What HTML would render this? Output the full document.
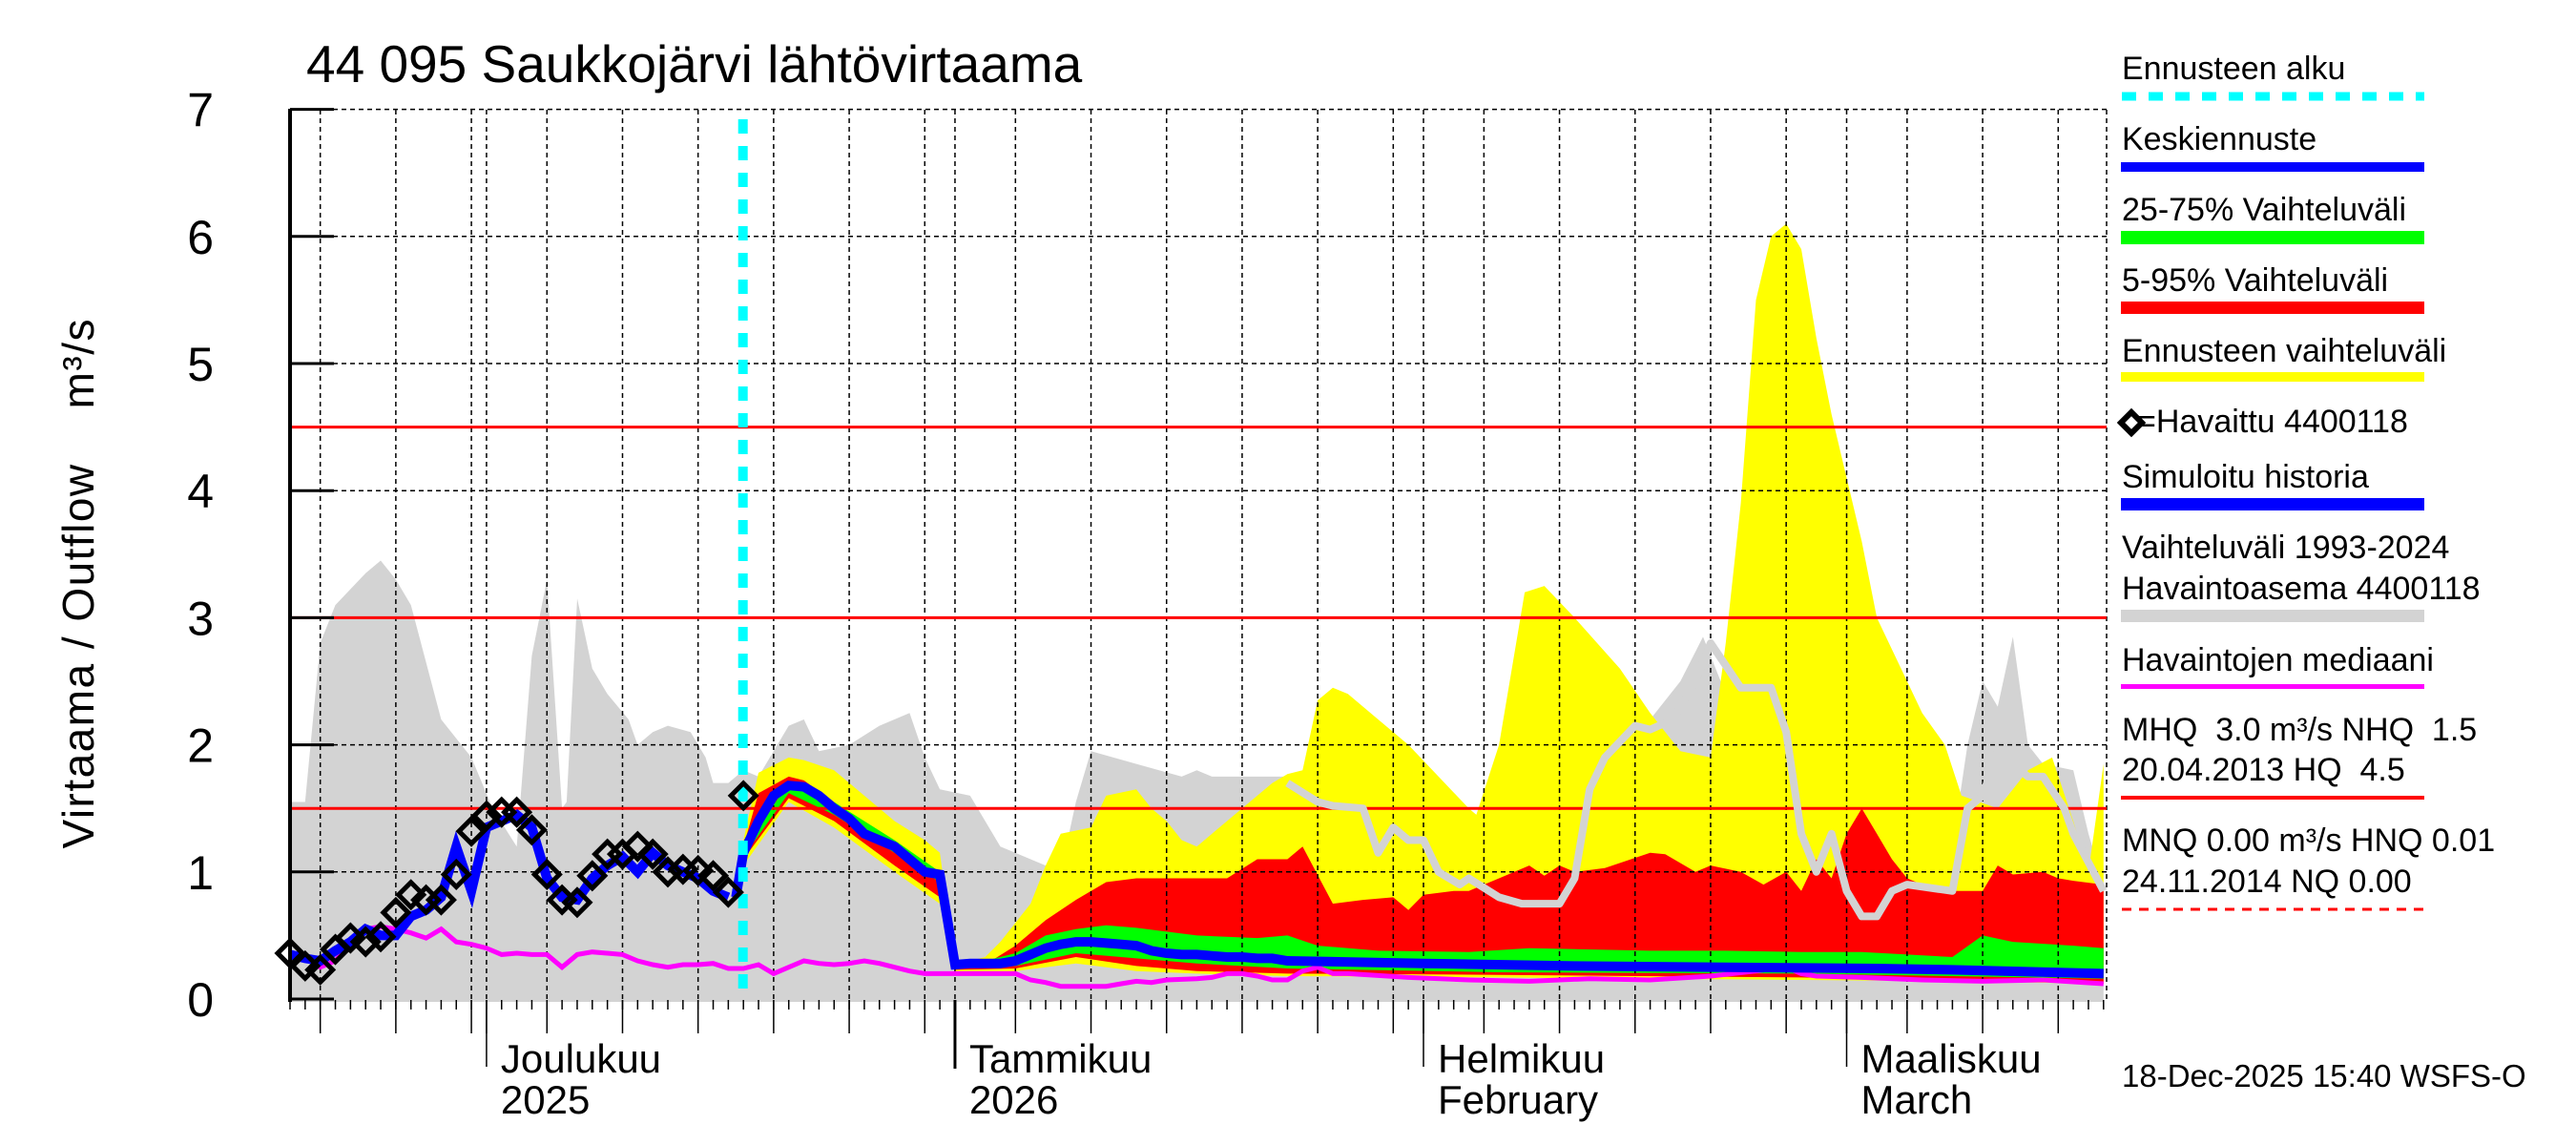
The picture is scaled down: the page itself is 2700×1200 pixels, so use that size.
<!DOCTYPE html>
<html><head><meta charset="utf-8"><style>
html,body{margin:0;padding:0;background:#fff;}
svg{display:block;font-family:"Liberation Sans",sans-serif;}
</style></head><body>
<svg id="chart" width="2700" height="1200" viewBox="0 0 2700 1200" xmlns="http://www.w3.org/2000/svg">
<text x="321" y="86" font-size="55">44 095 Saukkojärvi lähtövirtaama</text>
<text transform="translate(98,612) rotate(-90)" text-anchor="middle" font-size="46" textLength="555" style="white-space:pre" xml:space="preserve">Virtaama / Outflow    m³/s</text>
<g id="plot"></g>
<g id="axes"></g>
<g font-size="34">
 <text x="2224" y="83">Ennusteen alku</text>
 <line x1="2224" y1="101" x2="2541" y2="101" stroke="#00ffff" stroke-width="9" stroke-dasharray="15 13"/>
 <text x="2224" y="157">Keskiennuste</text>
 <rect x="2223" y="170" width="318" height="10" fill="#0000ff"/>
 <text x="2224" y="231">25-75% Vaihteluväli</text>
 <rect x="2223" y="242" width="318" height="14" fill="#00ff00"/>
 <text x="2224" y="305">5-95% Vaihteluväli</text>
 <rect x="2223" y="316" width="318" height="13" fill="#ff0000"/>
 <text x="2224" y="379">Ennusteen vaihteluväli</text>
 <rect x="2223" y="390" width="318" height="10" fill="#ffff00"/>
 <path d="M2223,443 l11,-11 l11,11 l-11,11 z" fill="none" stroke="#000" stroke-width="6"/>
 <text x="2240" y="453">=Havaittu 4400118</text>
 <text x="2224" y="511">Simuloitu historia</text>
 <rect x="2223" y="522" width="318" height="13" fill="#0000ff"/>
 <text x="2224" y="585">Vaihteluväli 1993-2024</text>
 <text x="2224" y="628">Havaintoasema 4400118</text>
 <rect x="2223" y="639" width="318" height="13" fill="#d3d3d3"/>
 <text x="2224" y="703">Havaintojen mediaani</text>
 <rect x="2223" y="717" width="318" height="5" fill="#ff00ff"/>
 <text x="2224" y="776" style="white-space:pre" xml:space="preserve">MHQ  3.0 m³/s NHQ  1.5</text>
 <text x="2224" y="818" style="white-space:pre" xml:space="preserve">20.04.2013 HQ  4.5</text>
 <rect x="2223" y="834" width="318" height="4" fill="#ff0000"/>
 <text x="2224" y="892">MNQ 0.00 m³/s HNQ 0.01</text>
 <text x="2224" y="935">24.11.2014 NQ 0.00</text>
 <line x1="2224" y1="953" x2="2541" y2="953" stroke="#ff0000" stroke-width="3" stroke-dasharray="10 8"/>
</g>
<text x="2224" y="1139" font-size="33">18-Dec-2025 15:40 WSFS-O</text>
</svg>
<script>
// day 0 = 18 Nov 2025
const histDays = [0,1,2,3,5,6,7,8,10,12,13.4,15,16,17,18,18.3,19,20,21,22.4,23,24,25,26.5,27.5,28,29,30,31,33,34,35,37,39,41,42,43,45,47,49,51,52,53,56,57.5,59,60,61,66,70,76,80,85,88,90,92,93.5,95,98,100,104,108,110,111,112,113,114,115,116,118,119,120];
const histUpper = [1.55,1.55,2.8,3.1,3.35,3.45,3.3,3.1,2.2,1.9,1.5,1.2,2.7,3.3,1.5,1.55,3.15,2.6,2.4,2.2,2.0,2.1,2.15,2.1,1.9,1.7,1.7,1.8,1.75,2.15,2.2,1.95,2.0,2.15,2.25,1.9,1.65,1.6,1.2,1.1,1.0,1.55,1.95,1.85,1.8,1.75,1.8,1.75,1.75,1.6,1.5,1.3,1.6,2.1,2.2,2.5,2.85,2.4,2.4,1.5,1.2,1.1,1.2,2.0,2.5,2.3,2.85,2.0,1.85,1.8,1.3,0.9];
const greyLineDays = [66,68,69,71,72,73,74,75,76,77.4,78,80,81.5,84,85,86,87,89,90,91.5,93,94,96,98,99,100,101,102,103,104,105,106,107,110,111,112,113,115,116,117.4,118,120];
const greyLineVals = [1.7,1.55,1.52,1.5,1.15,1.35,1.25,1.25,1.0,0.9,0.95,0.8,0.75,0.75,0.95,1.65,1.9,2.15,2.12,2.2,2.5,2.8,2.45,2.45,2.1,1.3,1.0,1.3,0.85,0.65,0.65,0.85,0.9,0.85,1.5,1.6,1.95,1.75,1.75,1.5,1.3,0.85];
const yelDays = [30,31,33,34,36,38,40,42,43,44,45,46,47,48,49,50,51,53,54,56,57,58,59,60,62,64,65,66,67,68,69,70,72,74,76,78,78.5,80,81.7,83,85,88,90,92,94,95,96,97,98,99,100,101,102,104,105,107,108,109.5,110.6,113,115,116.6,118,119,120];
const yelUpper = [1.25,1.78,1.9,1.88,1.8,1.6,1.4,1.25,1.15,0.27,0.3,0.33,0.45,0.6,0.75,1.05,1.3,1.35,1.6,1.65,1.5,1.4,1.25,1.2,1.4,1.6,1.7,1.77,1.8,2.35,2.45,2.4,2.2,2.0,1.75,1.5,1.45,2.0,3.2,3.25,3.0,2.6,2.25,1.95,1.9,2.8,3.9,5.5,6.0,6.1,5.9,5.2,4.6,3.6,3.0,2.5,2.25,2.0,1.6,1.5,1.8,1.9,1.4,1.0,1.85];
const yelLowDays = [30,33,36,40,43,44,48,52,56,60,66,80,100,110,120];
const yelLower = [1.05,1.55,1.35,1.0,0.75,0.22,0.22,0.28,0.22,0.2,0.18,0.17,0.15,0.14,0.12];
const redDays = [30,31,33,34,36,38,40,42,43,44,46,48,50,52,54,56,58,60,62,64,66,67,69,71,73,74,75,77,78,80,82,83,84,85,87,90,91,93,94,96,97.5,99,100,101,102,103,104,105,106,107,109,110,111,112,113,114,116,117,118,120];
const redUpper = [1.2,1.62,1.75,1.72,1.55,1.35,1.2,1.05,0.95,0.25,0.27,0.42,0.62,0.78,0.92,0.95,0.95,0.95,0.95,1.1,1.1,1.2,0.75,0.78,0.8,0.7,0.82,0.85,0.85,0.95,1.05,0.97,1.05,1.0,1.03,1.15,1.14,1.0,1.05,1.0,0.9,1.0,0.85,1.1,0.95,1.3,1.5,1.3,1.1,0.95,0.85,0.85,0.85,0.85,1.05,0.98,1.0,0.95,0.93,0.9];
const redLowDays = [30,33,36,40,43,44,48,52,56,60,66,80,100,110,120];
const redLower = [1.1,1.58,1.4,1.05,0.8,0.23,0.24,0.33,0.26,0.22,0.2,0.19,0.17,0.15,0.12];
const grnDays = [30,33,36,40,43,44,46,48,50,52,54,56,60,64,66,68,72,78,82,90,95,100,104,110,112,114,118,120];
const grnUpper = [1.18,1.7,1.55,1.25,1.0,0.27,0.3,0.36,0.5,0.55,0.58,0.56,0.5,0.48,0.5,0.42,0.38,0.37,0.4,0.38,0.38,0.37,0.37,0.33,0.5,0.45,0.42,0.4];
const grnLowDays = [30,33,36,40,43,44,48,52,56,60,66,80,100,110,120];
const grnLower = [1.12,1.62,1.45,1.15,0.92,0.25,0.26,0.36,0.32,0.28,0.24,0.21,0.2,0.18,0.16];
const meanDays = [29.5,30,31,32,33,34,35,36,37,38,39,40,41,42,43,44,45,46,47,48,49,50,51,52,53,54,55,56,57,58,59,60,61,62,63,64,65,66,75,85,95,105,110,120];
const meanVals = [0.8,1.15,1.4,1.6,1.68,1.67,1.6,1.5,1.42,1.3,1.25,1.2,1.1,1.0,0.98,0.27,0.28,0.28,0.28,0.3,0.35,0.4,0.43,0.45,0.45,0.44,0.43,0.42,0.38,0.36,0.35,0.35,0.34,0.33,0.33,0.32,0.32,0.3,0.28,0.26,0.25,0.24,0.23,0.2];
const simVals = [0.35,0.32,0.3,0.38,0.45,0.55,0.5,0.5,0.65,0.7,0.8,1.2,0.85,1.35,1.4,1.45,1.35,0.95,0.8,0.78,0.95,1.05,1.12,1.0,1.15,1.05,1.0,0.95,0.85,0.8];
const obsVals = [0.36,0.26,0.23,0.39,0.48,0.45,0.49,0.68,0.82,0.78,0.78,0.98,1.32,1.44,1.47,1.47,1.33,0.98,0.78,0.76,0.97,1.14,1.14,1.2,1.14,1.0,1.02,1.01,0.97,0.84,1.6];
const medDays = [0,1,2,3,4,5,6,7,8,9,10,11,12,13,14,15,16,17,18,19,20,21,22,23,24,25,26,27,28,29,30,31,32,33,34,35,36,37,38,39,40,41,42,44,46,48,49,50,51,52,54,55,56,57,58,60,61,62,63,64,65,66,67,68,69,70,74,78,82,86,90,94,97,99,100,101,104,108,112,116,120];
const medVals = [0.35,0.33,0.25,0.3,0.45,0.55,0.57,0.55,0.52,0.48,0.55,0.45,0.43,0.4,0.35,0.36,0.35,0.35,0.25,0.35,0.37,0.36,0.35,0.3,0.27,0.25,0.27,0.27,0.28,0.24,0.24,0.27,0.2,0.25,0.3,0.28,0.27,0.28,0.3,0.28,0.25,0.22,0.2,0.2,0.2,0.2,0.15,0.13,0.1,0.1,0.1,0.12,0.14,0.13,0.15,0.16,0.17,0.2,0.2,0.18,0.15,0.15,0.22,0.25,0.2,0.2,0.17,0.15,0.14,0.16,0.15,0.18,0.22,0.25,0.2,0.18,0.17,0.15,0.14,0.15,0.12];
const refLines = [4.5, 3.0, 1.5];
const yTicks = ["0","1","2","3","4","5","6","7"];
const forecastDay = 30;
const monthLabels = [["Joulukuu","2025"],["Tammikuu","2026"],["Helmikuu","February"],["Maaliskuu","March"]];
const monthDays = [13,44,75,103];

const X0=304, DX=15.84, Y0=1047, KY=133.2, XR=2208, YT=115, NDAYS=120;
const xs = d => X0 + d*DX;
const ys = v => Y0 - v*KY;
const NS='http://www.w3.org/2000/svg';
const plot=document.getElementById('plot'), axes=document.getElementById('axes');
function mk(tag, attrs, parent){const e=document.createElementNS(NS,tag);for(const k in attrs)e.setAttribute(k,attrs[k]);parent.appendChild(e);return e;}
function line(ds,vs){return ds.map((d,i)=>(i?'L':'M')+xs(d).toFixed(1)+','+ys(vs[i]).toFixed(1)).join(' ');}
function band(ud,uv,ld,lv){let p=line(ud,uv);for(let i=ld.length-1;i>=0;i--)p+=' L'+xs(ld[i]).toFixed(1)+','+ys(lv[i]).toFixed(1);return p+' Z';}

let g=mk('path',{d:line(histDays,histUpper)+` L${xs(NDAYS)},1050 L${X0},1050 Z`,fill:'#d3d3d3'},plot);


let y=mk('path',{d:band(yelDays,yelUpper,yelLowDays,yelLower),fill:'#ffff00'},plot);


let r=mk('path',{d:band(redDays,redUpper,redLowDays,redLower),fill:'#ff0000'},plot);


let gr=mk('path',{d:band(grnDays,grnUpper,grnLowDays,grnLower),fill:'#00ff00'},plot);



for(let v=1;v<=7;v++){let l=mk('line',{x1:X0,x2:XR,y1:ys(v),y2:ys(v),stroke:'#000','stroke-width':1.5,'stroke-dasharray':'5 4'},plot);

}
const gridDays=[];
[2,7,12].forEach(d=>gridDays.push(d));
[[13,31],[44,31],[75,28],[103,31]].forEach(([s,len])=>{gridDays.push(s);for(let k=5;k<len;k+=5)gridDays.push(s+k-1);});
gridDays.forEach(d=>{if(d>NDAYS)return;let l=mk('line',{x1:xs(d),x2:xs(d),y1:YT,y2:1047,stroke:'#000','stroke-width':1.5,'stroke-dasharray':'5 4'},plot);

});
mk('line',{x1:XR,x2:XR,y1:YT,y2:1050,stroke:'#000','stroke-width':1.5,'stroke-dasharray':'5 4'},plot);

refLines.forEach(v=>{let l=mk('line',{x1:X0,x2:XR,y1:ys(v),y2:ys(v),stroke:'#ff0000','stroke-width':3},plot);

});

let gl=mk('path',{d:line(greyLineDays,greyLineVals),fill:'none',stroke:'#d3d3d3','stroke-width':8,'stroke-linejoin':'round'},plot);


let md=mk('path',{d:line(medDays,medVals),fill:'none',stroke:'#ff00ff','stroke-width':5},plot);


let sd=simVals.map((v,i)=>i);
let sm=mk('path',{d:line(sd,simVals),fill:'none',stroke:'#0000ff','stroke-width':10},plot);


let mf=mk('path',{d:line(meanDays,meanVals),fill:'none',stroke:'#0000ff','stroke-width':10},plot);


let fs=mk('line',{x1:xs(forecastDay)-0.5,x2:xs(forecastDay)-0.5,y1:YT+10,y2:1047,stroke:'#00ffff','stroke-width':10,'stroke-dasharray':'15 13'},plot);


obsVals.forEach((v,i)=>{const cx=xs(i),cy=ys(v);let p=mk('path',{d:`M${cx-13},${cy} L${cx},${cy-13} L${cx+13},${cy} L${cx},${cy+13} Z`,fill:'none',stroke:'#000','stroke-width':5},plot);

});

mk('line',{x1:X0,x2:X0,y1:YT-1,y2:1050,stroke:'#000','stroke-width':4},axes);
yTicks.forEach((t,i)=>{mk('line',{x1:X0,x2:X0+46,y1:ys(i),y2:ys(i),stroke:'#000','stroke-width':3},axes);
let tx=mk('text',{x:224,y:ys(i)+18,'text-anchor':'end','font-size':50},axes);tx.textContent=t;

});
for(let d=0;d<=NDAYS;d++){mk('line',{x1:xs(d),x2:xs(d),y1:1048,y2:1058,stroke:'#000','stroke-width':1.5},axes);}
gridDays.forEach(d=>{if(d>NDAYS)return;mk('line',{x1:xs(d),x2:xs(d),y1:1048,y2:1083,stroke:'#000','stroke-width':1.5},axes);});
monthDays.forEach((d,i)=>{mk('line',{x1:xs(d),x2:xs(d),y1:1048,y2:i==1?1120:1118,stroke:'#000','stroke-width':i==1?3:1.5},axes);
let t1=mk('text',{x:xs(d)+15,y:1124,'font-size':42},axes);t1.textContent=monthLabels[i][0];


let t2=mk('text',{x:xs(d)+15,y:1167,'font-size':42},axes);t2.textContent=monthLabels[i][1];

});
</script>
</body></html>
